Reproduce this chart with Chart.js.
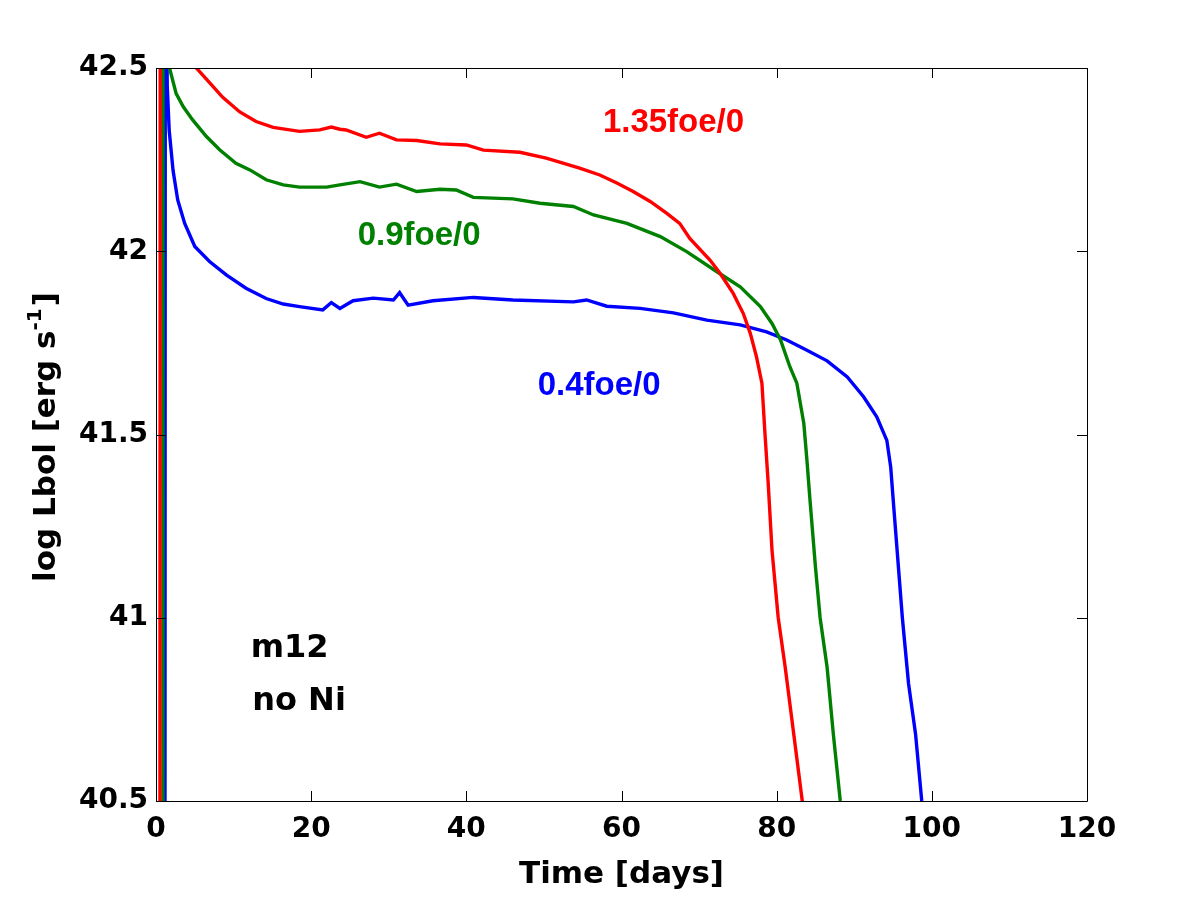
<!DOCTYPE html>
<html>
<head>
<meta charset="utf-8">
<title>m12 no Ni - bolometric light curves</title>
<script src="https://cdn.jsdelivr.net/npm/chart.js@4.4.1/dist/chart.umd.min.js"></script>
<style>
  html, body { margin: 0; padding: 0; background: #fff; }
  #wrap { width: 1200px; height: 900px; }
</style>
</head>
<body>
<div id="wrap"><canvas id="lc" width="1200" height="900"></canvas></div>
<script>
// axis ranges / ticks
const xTicks = [0, 20, 40, 60, 80, 100, 120];
const yTicks = [40.5, 41, 41.5, 42, 42.5];

// 1.35 foe / 0 (red)
const redT = [0.5, 0.55, 5.2, 6.9, 8.6, 10.8, 12.9, 15.1, 18.5, 21.1, 22.6, 23.7, 24.5, 27.1, 28.8, 31.0,
    33.6, 36.6, 40.0, 42.2, 46.9, 50.3, 54.6, 57.2, 59.4, 61.5, 63.7, 65.8, 67.5, 68.8, 71.4, 72.7,
    74.4, 75.7, 76.6, 77.4, 78.1, 78.5, 78.9, 79.4, 80.2, 81.1, 82.2, 83.3, 83.6];
const redL = [40.0, 43.0, 42.5, 42.46, 42.42, 42.38, 42.354, 42.338, 42.327, 42.331, 42.339, 42.333, 42.331, 42.311, 42.322, 42.304,
    42.302, 42.293, 42.29, 42.276, 42.27, 42.254, 42.227, 42.208, 42.186, 42.163, 42.136, 42.104, 42.076, 42.035, 41.976, 41.94,
    41.885, 41.83, 41.776, 41.712, 41.64, 41.5, 41.37, 41.184, 41.0, 40.865, 40.683, 40.5, 40.45];

// 0.9 foe / 0 (green)
const grnT = [0.84, 0.9, 1.74, 2.6, 3.5, 4.7, 6.5, 8.2, 10.3, 12.1, 14.2, 16.4, 18.5, 22.0, 23.7, 26.3,
    28.8, 31.0, 33.6, 36.6, 38.7, 40.9, 46.0, 49.5, 53.8, 56.4, 60.7, 65.0, 68.4, 72.3, 75.3, 77.9,
    79.4, 80.5, 81.7, 82.6, 83.5, 83.9, 84.3, 85.0, 85.6, 86.5, 87.3, 88.2, 88.5];
const grnL = [40.0, 43.0, 42.5, 42.43, 42.395, 42.359, 42.313, 42.277, 42.24, 42.222, 42.195, 42.181, 42.175, 42.175, 42.181, 42.19,
    42.175, 42.183, 42.163, 42.169, 42.167, 42.147, 42.143, 42.131, 42.122, 42.099, 42.076, 42.04, 41.999, 41.944, 41.903, 41.849,
    41.803, 41.758, 41.685, 41.64, 41.53, 41.43, 41.32, 41.138, 41.0, 40.865, 40.683, 40.5, 40.45];

// 0.4 foe / 0 (blue)
const bluT = [1.15, 1.2, 1.45, 1.7, 2.2, 2.8, 3.7, 5.0, 6.9, 9.1, 11.6, 14.2, 16.4, 18.5, 21.5, 22.6,
    23.7, 25.4, 28.0, 30.6, 31.4, 32.5, 35.7, 40.9, 46.0, 53.8, 55.5, 58.1, 62.4, 66.7, 71.0, 75.3,
    78.7, 81.3, 83.9, 86.5, 89.1, 91.2, 92.9, 94.2, 94.7, 95.1, 96.2, 97.0, 97.9, 98.7, 99.0];
const bluL = [40.0, 43.0, 42.45, 42.33, 42.22, 42.14, 42.076, 42.013, 41.972, 41.935, 41.899, 41.871, 41.856, 41.849, 41.84, 41.86,
    41.844, 41.865, 41.872, 41.867, 41.887, 41.853, 41.865, 41.874, 41.867, 41.862, 41.867, 41.85, 41.844, 41.832, 41.812, 41.799,
    41.78, 41.758, 41.73, 41.701, 41.657, 41.603, 41.548, 41.484, 41.411, 41.3, 41.0, 40.82, 40.683, 40.5, 40.45];

const seriesNames = ['1.35foe/0', '0.9foe/0', '0.4foe/0'];
const seriesColors = ['#ff0000', '#008000', '#0000ff'];

// where the curve labels sit (data coords: day, log L at baseline)
const noteT = [57.6, 26.0, 49.2];
const noteL = [42.326, 42.017, 41.608];

// panel text
const panelText = ['m12', 'no Ni'];
const panelT = [12.2, 12.4];
const panelL = [40.892, 40.747];

const TICK = 10;
const TITLE_FONT = 'bold 31px "DejaVu Sans"';
const SUP_FONT = 'bold 20px "DejaVu Sans"';
const NOTE_FONT = 'bold 33px "Liberation Sans"';
const PANEL_FONT = 'bold 32px "DejaVu Sans"';

function pts(ts, ls) {
    return ts.map((t, i) => ({ x: t, y: ls[i] }));
}

// frame, inward ticks on all four sides, titles and text labels
const decorations = {
    id: 'decorations',
    afterDatasetsDraw(chart) {
        const { ctx, chartArea: a, scales: { x, y } } = chart;
        ctx.save();
        ctx.strokeStyle = '#000';
        ctx.lineWidth = 1;
        ctx.beginPath();
        ctx.rect(a.left + 0.5, a.top + 0.5, a.right - a.left, a.bottom - a.top);
        x.ticks.forEach(t => {
            const px = Math.round(x.getPixelForValue(t.value)) + 0.5;
            ctx.moveTo(px, a.bottom); ctx.lineTo(px, a.bottom - TICK);
            ctx.moveTo(px, a.top); ctx.lineTo(px, a.top + TICK);
        });
        y.ticks.forEach(t => {
            const py = Math.round(y.getPixelForValue(t.value)) + 0.5;
            ctx.moveTo(a.left, py); ctx.lineTo(a.left + TICK, py);
            ctx.moveTo(a.right, py); ctx.lineTo(a.right - TICK, py);
        });
        ctx.stroke();

        // curve labels
        ctx.font = NOTE_FONT;
        ctx.textBaseline = 'alphabetic';
        ctx.textAlign = 'left';
        seriesNames.forEach((s, i) => {
            ctx.fillStyle = seriesColors[i];
            ctx.fillText(s, x.getPixelForValue(noteT[i]), y.getPixelForValue(noteL[i]));
        });

        ctx.font = PANEL_FONT;
        ctx.fillStyle = '#000';
        panelText.forEach((s, i) => {
            ctx.fillText(s, x.getPixelForValue(panelT[i]), y.getPixelForValue(panelL[i]));
        });

        // x title
        ctx.font = TITLE_FONT;
        ctx.textAlign = 'center';
        ctx.textBaseline = 'middle';
        ctx.fillText('Time [days]', (a.left + a.right) / 2, 875);

        // y title with superscript
        const main = 'log Lbol [erg s', sup = '-1', tail = ']';
        ctx.font = TITLE_FONT;
        const wMain = ctx.measureText(main).width;
        const wTail = ctx.measureText(tail).width;
        ctx.font = SUP_FONT;
        const wSup = ctx.measureText(sup).width;
        const total = wMain + wSup + wTail + 2;
        ctx.translate(47, 437);
        ctx.rotate(-Math.PI / 2);
        ctx.textAlign = 'left';
        let cx = -total / 2;
        ctx.font = TITLE_FONT;
        ctx.fillText(main, cx, 0);
        cx += wMain;
        ctx.font = SUP_FONT;
        ctx.fillText(sup, cx, -11);
        cx += wSup + 2;
        ctx.font = TITLE_FONT;
        ctx.fillText(tail, cx, 0);
        ctx.restore();
    }
};

const datasets = [pts(redT, redL), pts(grnT, grnL), pts(bluT, bluL)].map((d, i) => ({
    label: seriesNames[i],
    data: d,
    borderColor: seriesColors[i],
    backgroundColor: seriesColors[i],
    borderWidth: 3.4,
    pointRadius: 0,
    tension: 0,
    clip: 0
}));

new Chart(document.getElementById('lc'), {
    type: 'line',
    data: { datasets },
    options: {
        responsive: false,
        animation: false,
        devicePixelRatio: 1,
        layout: { padding: { left: 0, top: 68, right: 113, bottom: 0 } },
        plugins: {
            legend: { display: false },
            tooltip: { enabled: false }
        },
        scales: {
            x: {
                type: 'linear',
                min: xTicks[0],
                max: xTicks[xTicks.length - 1],
                afterFit: s => { s.height = 99; },
                afterBuildTicks: s => { s.ticks = xTicks.map(v => ({ value: v })); },
                grid: { display: false, drawTicks: false },
                border: { display: false },
                ticks: {
                    color: '#000',
                    font: { family: 'DejaVu Sans', size: 28, weight: 'bold' },
                    padding: 12,
                    maxRotation: 0,
                    callback: v => String(v)
                }
            },
            y: {
                type: 'linear',
                min: yTicks[0],
                max: yTicks[yTicks.length - 1],
                afterFit: s => { s.width = 156; },
                afterBuildTicks: s => { s.ticks = yTicks.map(v => ({ value: v })); },
                grid: { display: false, drawTicks: false },
                border: { display: false },
                ticks: {
                    color: '#000',
                    font: { family: 'DejaVu Sans', size: 28, weight: 'bold' },
                    padding: 8,
                    callback: v => String(v)
                }
            }
        }
    },
    plugins: [decorations]
});
</script>
</body>
</html>
